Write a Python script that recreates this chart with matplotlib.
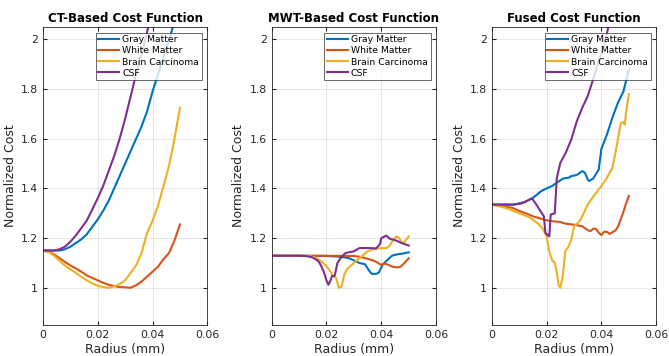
import matplotlib
matplotlib.use("Agg")
import matplotlib.pyplot as plt
import numpy as np

labels = ["Gray Matter", "White Matter", "Brain Carcinoma", "CSF"]
colors = ["#0072BD", "#D95319", "#EDB120", "#7E2F8E"]
titles = ["CT-Based Cost Function", "MWT-Based Cost Function", "Fused Cost Function"]

# CT-based cost, sampled every 0.002 mm
ct_x = [0.000, 0.002, 0.004, 0.006, 0.008, 0.010, 0.012, 0.014, 0.016, 0.018, 0.020, 0.022, 0.024,
        0.026, 0.028, 0.030, 0.032, 0.034, 0.036, 0.038, 0.040, 0.042, 0.044, 0.046, 0.048, 0.050]
ct_gray = [1.15, 1.15, 1.15, 1.15, 1.155, 1.165, 1.18, 1.195, 1.215, 1.245, 1.275, 1.31, 1.35,
           1.40, 1.45, 1.50, 1.55, 1.60, 1.65, 1.71, 1.79, 1.86, 1.93, 2.00, 2.07, 2.14]
ct_white = [1.15, 1.145, 1.135, 1.12, 1.105, 1.09, 1.078, 1.065, 1.05, 1.04, 1.03, 1.02, 1.012,
            1.007, 1.003, 1.002, 1.0, 1.01, 1.025, 1.045, 1.065, 1.085, 1.115, 1.14, 1.19, 1.255]
ct_carc = [1.15, 1.145, 1.13, 1.11, 1.09, 1.075, 1.06, 1.045, 1.03, 1.018, 1.008, 1.003, 1.0,
           1.005, 1.015, 1.03, 1.06, 1.09, 1.14, 1.22, 1.27, 1.33, 1.41, 1.49, 1.60, 1.725]
ct_csf = [1.15, 1.15, 1.15, 1.155, 1.165, 1.185, 1.21, 1.24, 1.27, 1.315, 1.36, 1.41, 1.47,
          1.53, 1.60, 1.68, 1.77, 1.86, 1.94, 2.03, 2.12, 2.21, 2.30, 2.39, 2.48, 2.57]

# MWT-based cost
mwt_gray_x = [0, 0.010, 0.020, 0.025, 0.028, 0.030, 0.032, 0.034, 0.0355, 0.0365, 0.038, 0.039,
              0.0405, 0.042, 0.044, 0.046, 0.048, 0.050]
mwt_gray = [1.129, 1.129, 1.128, 1.125, 1.12, 1.11, 1.10, 1.095, 1.07, 1.056, 1.056, 1.06,
            1.093, 1.11, 1.13, 1.135, 1.138, 1.143]
mwt_white_x = [0, 0.010, 0.020, 0.030, 0.032, 0.034, 0.036, 0.037, 0.038, 0.040, 0.041, 0.042,
               0.044, 0.046, 0.047, 0.048, 0.050]
mwt_white = [1.129, 1.129, 1.129, 1.128, 1.125, 1.12, 1.113, 1.11, 1.105, 1.092, 1.097, 1.095,
             1.085, 1.082, 1.085, 1.095, 1.119]
mwt_carc_x = [0, 0.010, 0.014, 0.016, 0.018, 0.020, 0.0215, 0.0225, 0.0235, 0.0245, 0.0255, 0.0265,
              0.0275, 0.029, 0.031, 0.033, 0.035, 0.037, 0.040, 0.042, 0.043, 0.0445, 0.0455,
              0.0465, 0.0475, 0.0485, 0.050]
mwt_carc = [1.129, 1.129, 1.128, 1.122, 1.107, 1.087, 1.065, 1.045, 1.04, 1.0, 1.005, 1.053,
            1.075, 1.09, 1.11, 1.128, 1.147, 1.156, 1.16, 1.16, 1.17, 1.195, 1.207, 1.2, 1.18,
            1.185, 1.207]
mwt_csf_x = [0, 0.010, 0.013, 0.015, 0.017, 0.018, 0.019, 0.020, 0.0207, 0.0215, 0.022, 0.023,
             0.024, 0.0255, 0.027, 0.030, 0.032, 0.036, 0.038, 0.0395, 0.040, 0.0418, 0.043,
             0.0455, 0.047, 0.050]
mwt_csf = [1.129, 1.129, 1.127, 1.122, 1.108, 1.09, 1.065, 1.03, 1.012, 1.03, 1.047, 1.048,
           1.10, 1.125, 1.14, 1.147, 1.16, 1.16, 1.158, 1.175, 1.2, 1.21, 1.198, 1.19, 1.182,
           1.17]

# Fused cost
fu_gray_x = [0, 0.008, 0.010, 0.012, 0.015, 0.018, 0.020, 0.022, 0.024, 0.026, 0.028, 0.029, 0.031,
             0.033, 0.034, 0.035, 0.0355, 0.037, 0.039, 0.040, 0.042, 0.044, 0.046, 0.048, 0.050]
fu_gray = [1.335, 1.335, 1.34, 1.345, 1.362, 1.389, 1.40, 1.41, 1.425, 1.44, 1.443, 1.45, 1.454,
           1.47, 1.463, 1.436, 1.43, 1.44, 1.476, 1.56, 1.617, 1.685, 1.745, 1.79, 1.88]
fu_white_x = [0, 0.005, 0.0075, 0.010, 0.0136, 0.015, 0.018, 0.020, 0.022, 0.025, 0.027, 0.030,
              0.033, 0.035, 0.036, 0.037, 0.038, 0.039, 0.040, 0.041, 0.042, 0.043, 0.044, 0.045,
              0.046, 0.047, 0.048, 0.049, 0.050]
fu_white = [1.335, 1.327, 1.322, 1.31, 1.295, 1.288, 1.278, 1.272, 1.268, 1.265, 1.258, 1.254,
            1.248, 1.232, 1.228, 1.238, 1.237, 1.222, 1.212, 1.226, 1.225, 1.217, 1.224, 1.23,
            1.245, 1.275, 1.305, 1.34, 1.37]
fu_carc_x = [0, 0.005, 0.010, 0.0136, 0.0167, 0.0185, 0.020, 0.021, 0.022, 0.023, 0.0238, 0.0244,
             0.025, 0.0259, 0.0268, 0.028, 0.029, 0.030, 0.032, 0.033, 0.035, 0.0367, 0.039,
             0.040, 0.042, 0.044, 0.045, 0.046, 0.047, 0.048, 0.0485, 0.049, 0.050]
fu_carc = [1.335, 1.322, 1.30, 1.285, 1.26, 1.24, 1.207, 1.146, 1.112, 1.10, 1.058, 1.01,
           1.0, 1.045, 1.146, 1.166, 1.193, 1.247, 1.268, 1.288, 1.335, 1.362, 1.396,
           1.41, 1.443, 1.483, 1.537, 1.597, 1.664, 1.667, 1.657, 1.71, 1.78]
fu_csf_x = [0, 0.008, 0.011, 0.0147, 0.0167, 0.0178, 0.019, 0.0196, 0.0205, 0.021, 0.0215, 0.023,
            0.0237, 0.025, 0.027, 0.029, 0.031, 0.033, 0.035, 0.037, 0.039, 0.041, 0.0425,
            0.045, 0.050]
fu_csf = [1.335, 1.335, 1.34, 1.36, 1.328, 1.308, 1.288, 1.22, 1.212, 1.207, 1.295, 1.30,
          1.44, 1.503, 1.544, 1.597, 1.67, 1.725, 1.772, 1.84, 1.913, 1.973, 2.05, 2.15, 2.35]

panels = [
    [(ct_x, ct_gray), (ct_x, ct_white), (ct_x, ct_carc), (ct_x, ct_csf)],
    [(mwt_gray_x, mwt_gray), (mwt_white_x, mwt_white), (mwt_carc_x, mwt_carc), (mwt_csf_x, mwt_csf)],
    [(fu_gray_x, fu_gray), (fu_white_x, fu_white), (fu_carc_x, fu_carc), (fu_csf_x, fu_csf)],
]

plt.rcParams["font.family"] = "DejaVu Sans"
fig = plt.figure(figsize=(6.69, 3.56), dpi=100)
lefts = [0.064, 0.406, 0.735]
axc = "#262626"

for i, series in enumerate(panels):
    ax = fig.add_axes([lefts[i], 0.087, 0.246, 0.837])
    for (x, y), c, lab in zip(series, colors, labels):
        ax.plot(x, y, color=c, lw=1.5, label=lab)
    ax.set_xlim(0, 0.06)
    ax.set_ylim(0.85, 2.05)
    ax.set_xticks([0, 0.02, 0.04, 0.06])
    ax.set_xticklabels(["0", "0.02", "0.04", "0.06"])
    ax.set_yticks([1, 1.2, 1.4, 1.6, 1.8, 2])
    ax.set_yticklabels(["1", "1.2", "1.4", "1.6", "1.8", "2"])
    ax.grid(True, color="#e0e0e0", lw=0.6)
    ax.set_axisbelow(True)
    ax.tick_params(direction="in", length=3, labelsize=7.8, colors=axc, top=True, right=True)
    for s in ax.spines.values():
        s.set_color(axc)
        s.set_linewidth(0.6)
    ax.set_xlabel("Radius (mm)", fontsize=9, color=axc, labelpad=2)
    ax.set_ylabel("Normalized Cost", fontsize=9, color=axc, labelpad=3)
    ax.set_title(titles[i], fontsize=8.5, fontweight="bold", pad=4)
    leg = ax.legend(loc="upper right", fontsize=6.7, frameon=True, fancybox=False,
                    borderpad=0.3, labelspacing=0.22, handlelength=2.2, handletextpad=0.35,
                    borderaxespad=0.6)
    leg.get_frame().set_edgecolor(axc)
    leg.get_frame().set_linewidth(0.6)

fig.savefig("out.png", dpi=100)
